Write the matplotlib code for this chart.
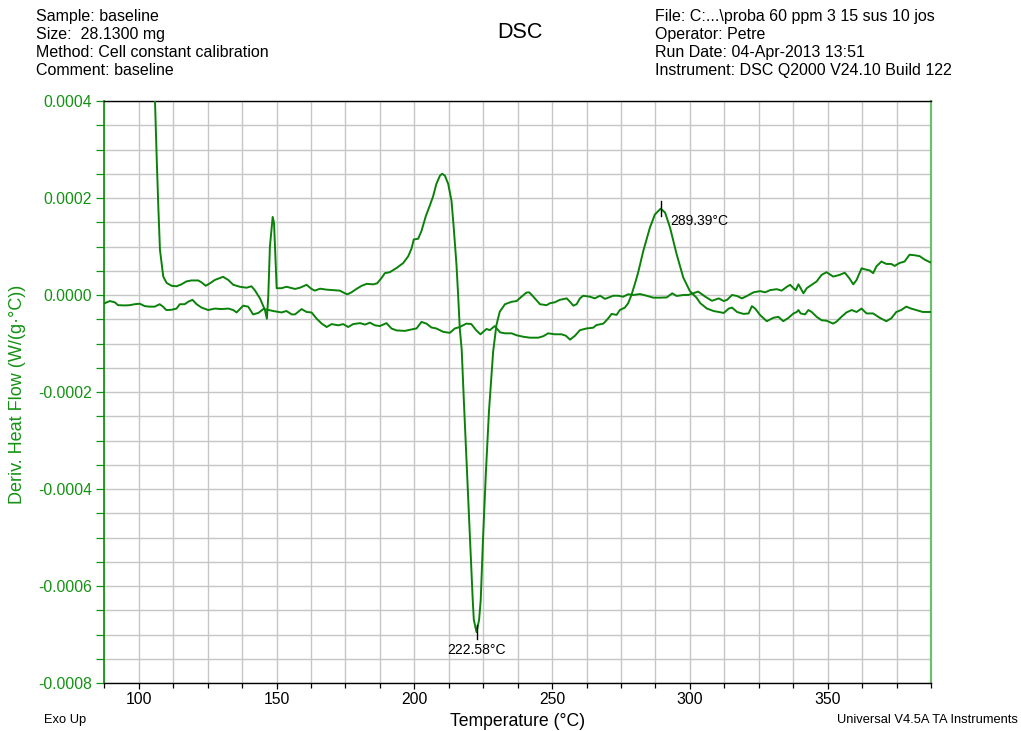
import numpy as np
import matplotlib
matplotlib.use('Agg')
import matplotlib.pyplot as plt
from matplotlib.ticker import MultipleLocator, FormatStrFormatter

plt.rcParams['font.family'] = ['Liberation Sans', 'DejaVu Sans']

# ---------------- data (values in units of 1e-5 W/(g·°C)) ----------------
UNIT = 1e-5

temp_run1 = [105.6, 105.9, 106.5, 107.1, 107.7, 108.9, 110.1, 111.9, 113.7, 115.5, 117.3, 119.1,
             121.6, 122.8, 124.3, 125.8, 127.6, 130.6, 132.5, 134.3, 136.7, 139.1, 140.9, 142.1,
             144.0, 145.8, 146.5, 147.0, 147.6, 148.6, 149.1, 149.6, 150.05, 151.8, 153.6, 156.7,
             158.5, 160.9, 162.7, 163.9, 165.8, 168.2, 170.6, 173.0, 174.8, 175.7, 177.2, 179.0,
             180.9, 182.7, 185.1, 186.5, 188.1, 189.3, 191.1, 193.5, 196.0, 197.8, 199.0, 199.8,
             201.4, 202.6, 204.2, 205.6, 206.8, 208.0, 209.3, 210.1, 211.1, 212.3, 213.5, 214.3,
             215.3, 215.9, 216.5, 217.2, 218.0, 219.1, 220.2, 221.2, 221.6, 222.58, 223.5, 224.1,
             224.9, 226.0, 227.1, 228.0, 228.6, 229.8, 231.0, 232.9, 235.3, 237.1, 238.9, 240.7,
             241.7, 243.2, 245.6, 248.0, 249.2, 251.0, 252.8, 255.3, 256.5, 257.7, 258.9, 260.1,
             261.3, 263.7, 265.5, 267.4, 269.2, 270.4, 272.2, 274.0, 275.8, 277.6, 279.5, 281.9,
             284.3, 286.7, 289.1, 291.6, 293.6, 295.2, 297.6, 299.4, 301.2, 303.0, 305.6, 308.0,
             310.5, 312.3, 313.5, 315.3, 317.1, 318.9, 320.7, 323.1, 325.5, 327.3, 329.1, 331.5,
             333.3, 335.2, 336.4, 337.6, 338.4, 339.4, 340.2, 341.2, 342.4, 344.2, 346.0, 347.8,
             349.6, 352.0, 354.4, 356.2, 357.8, 359.3, 360.5, 362.3, 363.5, 365.3, 366.5, 367.7,
             369.5, 371.3, 373.1, 374.3, 376.1, 377.9, 379.7, 381.5, 383.4, 385.2, 387.0, 387.5]
dhf_run1 = [50.0, 40.0, 28.5, 18.2, 9.3, 3.8, 2.5, 1.9, 1.8, 2.2, 2.8, 3.0,
            3.0, 2.6, 1.9, 2.4, 3.1, 3.75, 3.1, 2.1, 1.7, 1.5, 1.8, 1.0,
            -0.7, -3.1, -4.9, -0.3, 10.0, 16.1, 14.8, 7.9, 1.4, 1.4, 1.7, 1.25,
            1.5, 2.1, 1.25, 0.9, 1.3, 1.1, 1.0, 0.9, 0.35, 0.15, 0.55, 1.25,
            1.9, 2.3, 2.2, 2.4, 3.5, 4.5, 4.7, 5.55, 6.6, 8.0, 9.6, 11.45,
            11.6, 13.2, 16.3, 18.4, 20.3, 22.9, 24.6, 25.0, 24.6, 22.9, 19.4, 13.9,
            6.25, 0.0, -6.9, -11.3, -22.1, -36.1, -50.1, -62.9, -67.0, -69.5, -67.0, -62.9,
            -50.7, -36.3, -23.9, -16.7, -11.7, -6.2, -3.45, -1.9, -1.4, -1.25, -0.35, 0.5,
            0.55, -0.35, -1.9, -2.1, -1.7, -1.5, -1.0, -0.7, -1.4, -2.2, -1.9, -0.7,
            -0.15, -0.35, -0.7, -0.15, -0.8, -0.55, -0.15, -0.15, -0.35, 0.15, 0.0, 0.2,
            -0.15, -0.55, -0.55, -0.5, 0.35, -0.2, 0.0, 0.0, 0.35, 0.7, -0.35, -1.2,
            -0.7, -1.25, -1.0, 0.0, -0.2, -0.7, -0.2, 0.55, 0.8, 0.55, 1.0, 1.2,
            0.9, 1.7, 2.1, 1.4, 1.0, 2.2, 1.4, 0.35, 1.4, 2.1, 2.8, 4.15,
            4.7, 3.8, 4.15, 4.6, 3.5, 2.2, 3.1, 5.5, 5.3, 5.05, 4.5, 5.9,
            6.9, 6.4, 6.4, 6.0, 6.6, 6.9, 8.3, 8.2, 8.0, 7.3, 6.8, 6.7]

temp_run2 = [87.6, 89.5, 91.3, 92.5, 94.9, 96.7, 98.5, 100.4, 102.2, 104.0, 105.8, 107.6,
             108.8, 110.0, 111.9, 113.7, 114.9, 116.7, 117.9, 119.5, 121.0, 122.8, 125.2, 127.6,
             130.0, 132.5, 134.3, 135.5, 137.9, 139.7, 141.5, 143.4, 145.2, 146.4, 148.8, 151.8,
             153.6, 155.5, 156.7, 159.1, 160.9, 162.7, 164.6, 166.4, 168.2, 170.0, 172.4, 174.2,
             176.0, 177.8, 180.3, 182.1, 183.9, 185.7, 187.5, 189.9, 191.7, 193.5, 196.6, 199.0,
             200.8, 202.6, 204.4, 206.2, 208.0, 210.5, 212.9, 214.7, 216.5, 218.9, 220.7, 222.5,
             224.0, 226.2, 227.4, 229.2, 231.1, 232.9, 235.3, 237.1, 239.5, 241.9, 245.0, 246.8,
             248.6, 251.0, 253.4, 255.0, 256.5, 258.3, 260.1, 262.5, 264.9, 266.1, 268.6, 270.4,
             271.6, 273.4, 274.6, 276.4, 277.6, 278.8, 280.1, 281.3, 283.1, 285.5, 287.3, 289.39,
             291.0, 292.8, 295.2, 297.6, 300.0, 302.4, 303.8, 306.2, 308.6, 310.5, 312.3, 314.1,
             315.3, 317.1, 319.5, 321.3, 322.5, 323.7, 325.5, 327.9, 330.3, 332.1, 333.9, 335.8,
             337.6, 338.8, 339.4, 340.2, 341.8, 343.0, 344.2, 346.0, 347.8, 349.6, 352.0, 353.2,
             355.0, 356.8, 358.7, 360.5, 362.3, 364.1, 366.5, 368.9, 371.3, 373.1, 374.9, 376.7,
             378.5, 380.3, 382.1, 384.5, 386.9, 387.5]
dhf_run2 = [-1.7, -1.25, -1.5, -2.1, -2.15, -2.1, -1.9, -1.8, -2.3, -2.4, -2.4, -1.9,
            -2.4, -3.1, -3.05, -2.8, -1.9, -1.9, -1.4, -1.0, -1.9, -2.6, -3.1, -2.8,
            -2.9, -2.8, -3.1, -3.6, -2.2, -2.4, -4.0, -3.7, -2.9, -3.0, -3.3, -3.6,
            -3.3, -4.0, -4.0, -2.9, -3.5, -3.6, -4.9, -5.9, -6.6, -6.0, -6.25, -6.0,
            -6.6, -6.0, -5.8, -6.1, -5.7, -6.25, -6.4, -5.8, -6.9, -7.3, -7.4, -7.1,
            -6.9, -5.55, -5.9, -6.7, -6.9, -7.6, -7.8, -6.9, -6.6, -5.9, -6.0, -7.3,
            -8.1, -7.0, -7.25, -6.4, -7.7, -7.9, -7.9, -8.3, -8.6, -8.8, -8.8, -8.5,
            -7.9, -8.1, -8.1, -8.4, -9.2, -8.4, -7.25, -6.9, -6.75, -6.2, -5.9, -4.8,
            -3.9, -4.1, -3.1, -2.6, -1.7, 0.0, 2.4, 4.8, 9.1, 13.9, 16.6, 17.8,
            17.0, 13.9, 8.4, 3.6, 0.8, -0.55, -1.7, -2.8, -3.3, -3.5, -3.7, -2.8,
            -2.6, -3.5, -3.9, -3.8, -2.3, -2.8, -4.15, -5.4, -4.7, -4.5, -5.4, -4.7,
            -3.8, -3.5, -3.1, -3.8, -4.0, -3.1, -3.5, -4.5, -5.2, -5.3, -5.9, -5.5,
            -4.5, -3.6, -3.1, -3.5, -2.8, -3.8, -3.8, -4.7, -5.4, -4.8, -3.5, -3.1,
            -2.4, -2.8, -3.1, -3.5, -3.5, -3.5]

header_left = ["Sample: baseline", "Size:  28.1300 mg",
               "Method: Cell constant calibration", "Comment: baseline"]
header_right = ["File: C:...\\proba 60 ppm 3 15 sus 10 jos", "Operator: Petre",
                "Run Date: 04-Apr-2013 13:51", "Instrument: DSC Q2000 V24.10 Build 122"]
title = "DSC"
x_label = "Temperature (°C)"
y_label = "Deriv. Heat Flow (W/(g·°C))"
footer_left = "Exo Up"
footer_right = "Universal V4.5A TA Instruments"

# ---------------- styling ----------------
W, H = 1021, 731
CURVE = '#0a820a'
GREEN = '#139213'
GRID = '#c6c6c6'

fig = plt.figure(figsize=(W / 100, H / 100), dpi=100)
ax = fig.add_axes([104.3 / W, 1 - 683 / H, (931 - 104.3) / W, (683 - 101) / H])

t1 = np.array(temp_run1)
v1 = np.array(dhf_run1) * UNIT
t2 = np.array(temp_run2)
v2 = np.array(dhf_run2) * UNIT

ax.plot(t1, v1, color=CURVE, lw=1.4, zorder=3)
ax.plot(t2, v2, color=CURVE, lw=1.4, zorder=3)

ax.set_xlim(87.5, 387.5)
ax.set_ylim(-0.0008, 0.0004)

ax.xaxis.set_major_locator(MultipleLocator(50))
ax.xaxis.set_minor_locator(MultipleLocator(12.5))
ax.yaxis.set_major_locator(MultipleLocator(0.0002))
ax.yaxis.set_minor_locator(MultipleLocator(0.00005))
ax.yaxis.set_major_formatter(FormatStrFormatter('%.4f'))

ax.grid(True, which='both', color=GRID, lw=1.0, zorder=0)
ax.set_axisbelow(True)

ax.tick_params(axis='x', which='major', direction='out', length=4.5, width=0.9,
               color='black', labelsize=11.3, pad=2.0, labelcolor='black')
ax.tick_params(axis='x', which='minor', direction='out', length=3.5, width=0.9, color='black')
ax.tick_params(axis='y', which='major', direction='out', length=5.5, width=0.9,
               color=GREEN, labelsize=11.3, pad=3.5, labelcolor=GREEN)
ax.tick_params(axis='y', which='minor', direction='out', length=5.5, width=0.9, color=GREEN)

ax.spines['left'].set_color('#0a8a0a')
ax.spines['left'].set_linewidth(1.2)
ax.spines['right'].set_color('#6cc06c')
ax.spines['right'].set_linewidth(1.6)
ax.spines['top'].set_color('black')
ax.spines['top'].set_linewidth(1.0)
ax.spines['bottom'].set_color('black')
ax.spines['bottom'].set_linewidth(1.0)

# axis labels
fig.text((104.3 + 931) / 2 / W, 1 - 721 / H, x_label, ha='center', va='center', fontsize=12.7)
fig.text(18 / W, 1 - 394 / H, y_label, ha='center', va='center', rotation=90,
         fontsize=13, color=GREEN)

# peak markers (derived from data)
i_min = int(np.argmin(v1))
i_max = int(np.argmax(v2))
mark = 1.5 * UNIT
ax.plot([t1[i_min], t1[i_min]], [v1[i_min] - mark, v1[i_min] + mark], color='black', lw=1.0, zorder=4)
ax.plot([t2[i_max], t2[i_max]], [v2[i_max] - mark, v2[i_max] + mark], color='black', lw=1.0, zorder=4)
ax.annotate(f"{t1[i_min]:.2f}°C", xy=(t1[i_min], v1[i_min]), xytext=(0, -13),
            textcoords='offset points', ha='center', va='center', fontsize=10)
ax.annotate(f"{t2[i_max]:.2f}°C", xy=(t2[i_max], v2[i_max]), xytext=(7, -9),
            textcoords='offset points', ha='left', va='center', fontsize=10)

# header
for i, s in enumerate(header_left):
    fig.text(36 / W, 1 - (17 + i * 17.7) / H, s, ha='left', va='center', fontsize=11.5)
for i, s in enumerate(header_right):
    fig.text(655 / W, 1 - (17 + i * 17.7) / H, s, ha='left', va='center', fontsize=11.5)
fig.text(520 / W, 1 - 33 / H, title, ha='center', va='center', fontsize=15.5)

# footer
fig.text(44 / W, 1 - 720 / H, footer_left, ha='left', va='center', fontsize=9.3)
fig.text(1018 / W, 1 - 720 / H, footer_right, ha='right', va='center', fontsize=9.3)

fig.savefig('out.png', dpi=100)
